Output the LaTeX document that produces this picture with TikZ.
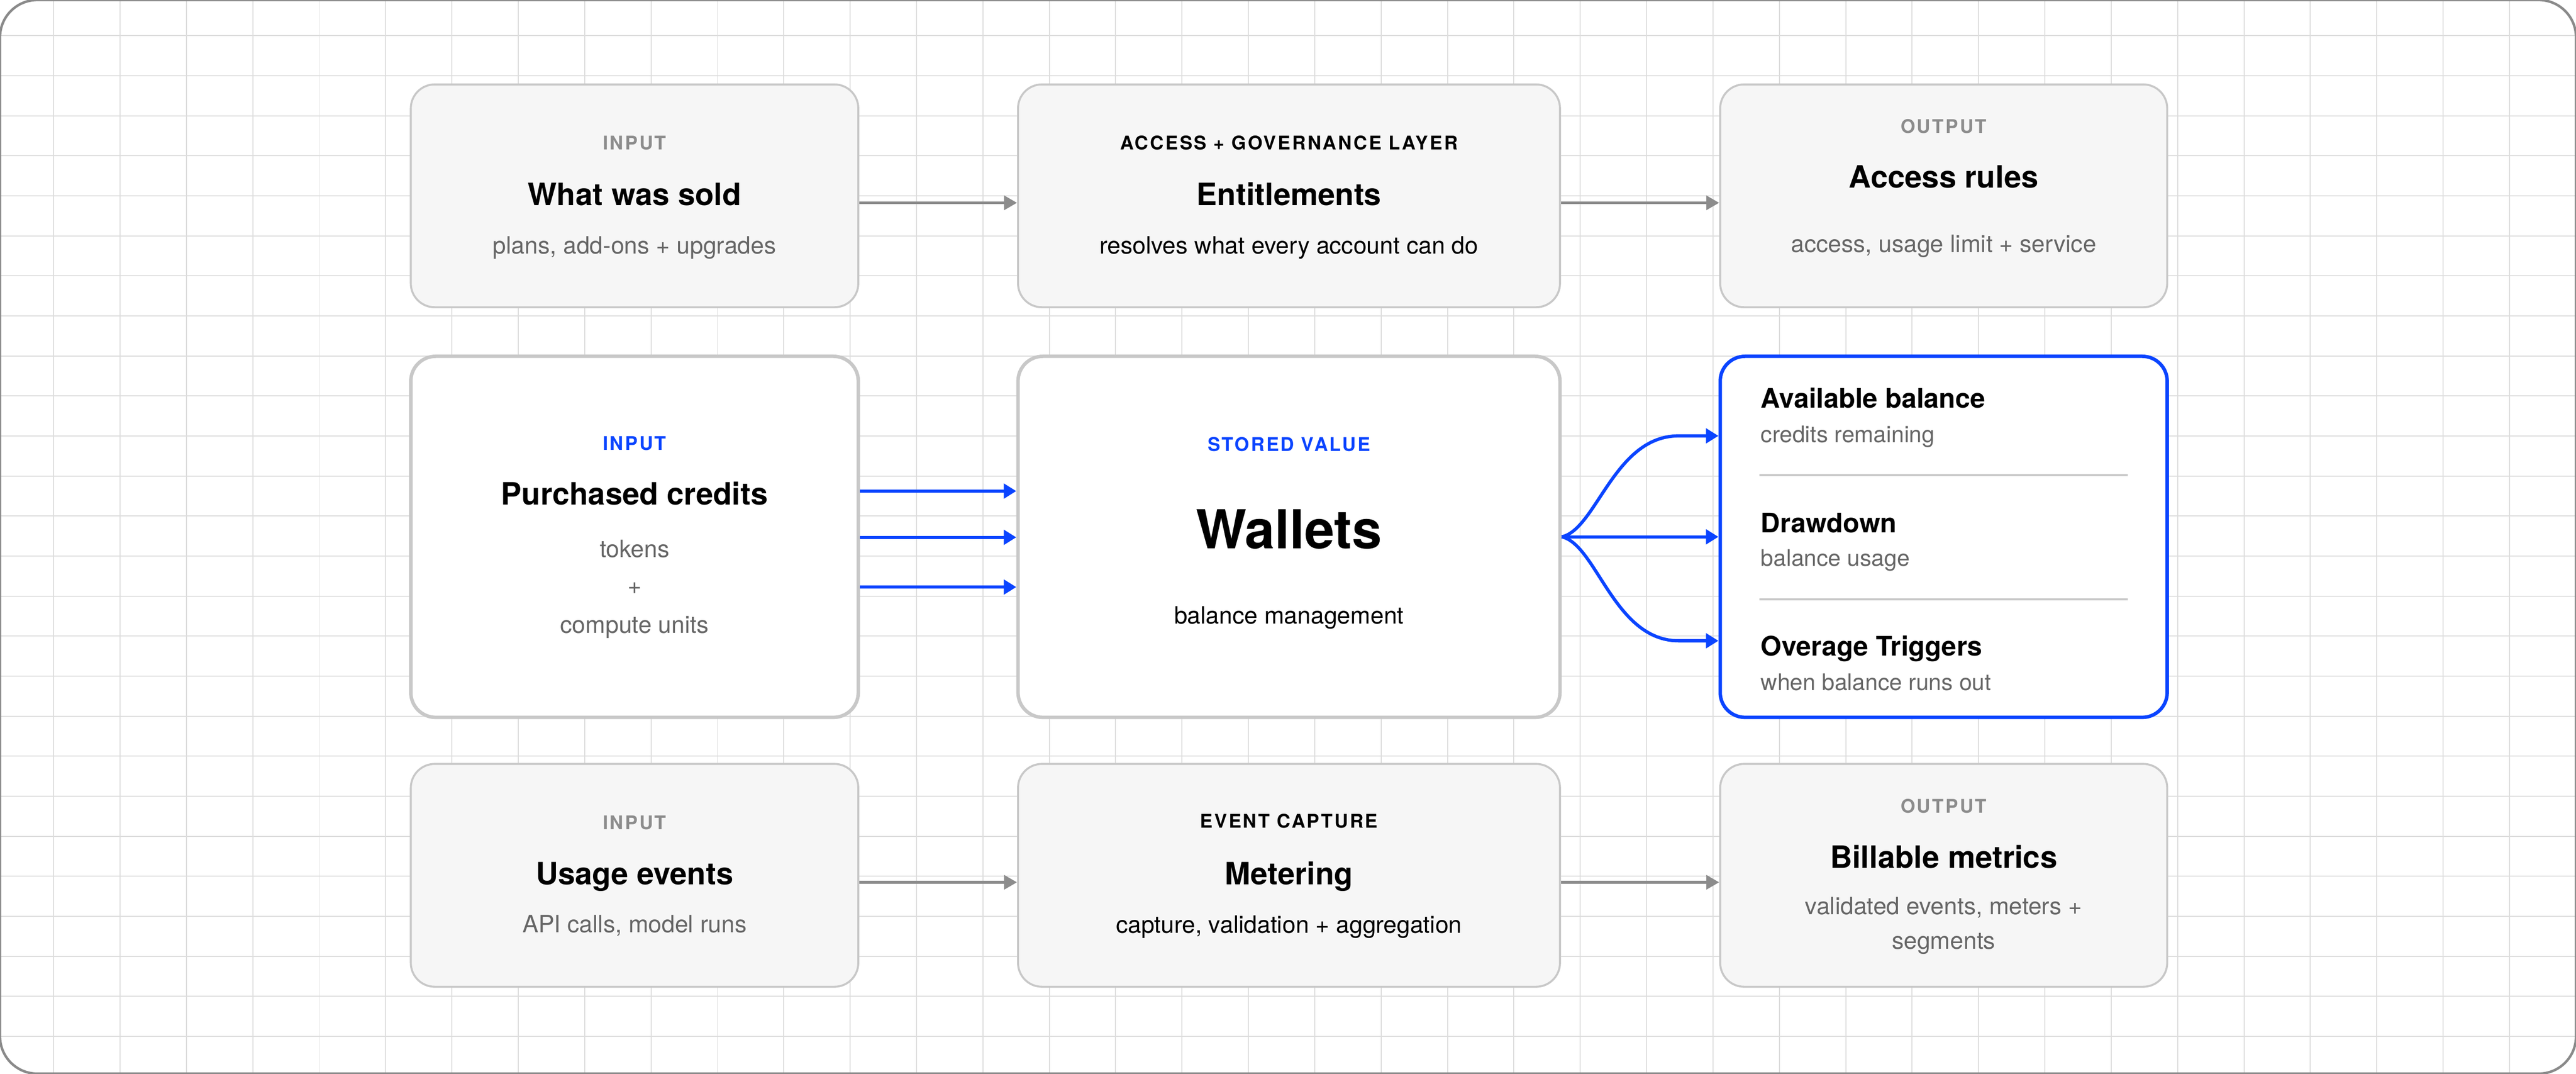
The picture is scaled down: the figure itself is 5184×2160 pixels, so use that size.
\documentclass[tikz,border=0pt]{standalone}
\usepackage{fontspec}
\setmainfont{TeX Gyre Heros}
\newfontfamily\trackfont[LetterSpace=9]{TeX Gyre Heros}
\usetikzlibrary{arrows.meta}
\definecolor{gridc}{HTML}{DDDDDD}
\definecolor{framec}{HTML}{8A8A8A}
\definecolor{boxline}{HTML}{C8C8C8}
\definecolor{boxfill}{HTML}{F6F6F6}
\definecolor{labgray}{HTML}{8C8C8C}
\definecolor{subgray}{HTML}{666666}
\definecolor{arrowgray}{HTML}{8C8C8C}
\definecolor{blueone}{HTML}{0A44FF}
\newcommand\ftitle{\fontsize{17.6pt}{21pt}\selectfont\bfseries}
\newcommand\fsubt{\fontsize{13.66pt}{16pt}\selectfont}
\newcommand\flab{\trackfont\fontsize{10.8pt}{12pt}\selectfont\bfseries}
\newcommand\fwal{\fontsize{30.7pt}{36pt}\selectfont\bfseries}
\newcommand\fitem{\fontsize{15.4pt}{18pt}\selectfont\bfseries}
\newcommand\fisub{\fontsize{13.1pt}{16pt}\selectfont}
\begin{document}
\begin{tikzpicture}[x=0.01cm,y=-0.01cm,
  gridl/.style={draw=gridc, line width=0.02cm},
  graybox/.style={draw=boxline, line width=0.04cm, fill=boxfill, rounded corners=0.48cm, inner sep=0, minimum height=4.48cm},
  midbox/.style={draw=boxline, line width=0.07cm, fill=white, rounded corners=0.5cm, inner sep=0, minimum height=7.26cm},
  bluebox/.style={midbox, draw=blueone},
  lbl/.style={anchor=base, inner sep=0, font=\flab, text=labgray},
  ttl/.style={anchor=base, inner sep=0, font=\ftitle, text=black},
  subt/.style={anchor=base, inner sep=0, font=\fsubt, text=subgray},
  itemt/.style={anchor=base west, inner sep=0, font=\fitem, text=black},
  items/.style={anchor=base west, inner sep=0, font=\fisub, text=subgray},
  grayarrow/.style={draw=arrowgray, line width=0.06cm, -{Triangle[length=0.26cm,width=0.28cm]}},
  bluearrow/.style={draw=blueone, line width=0.065cm, -{Triangle[length=0.25cm,width=0.29cm]}},
  divider/.style={draw=boxline, line width=0.04cm}
]
\useasboundingbox (0,0) rectangle (5184,2160);
\fill[white] (0,0) rectangle (5184,2160);
% grid
\begin{scope}
\clip[rounded corners=0.75cm] (0,0) rectangle (5184,2160);
\foreach \k in {0,...,37} \draw[gridl] ({108+133.57*\k},0) -- ({108+133.57*\k},2160);
\foreach \k in {0,...,25} \draw[gridl] (0,{72+80.52*\k}) -- (5184,{72+80.52*\k});
\end{scope}

% boxes
\node[graybox, minimum width=9cm] (sold) at (1277,394) {};
\node[graybox, minimum width=10.9cm] (ent) at (2594,394) {};
\node[graybox, minimum width=8.99cm] (rules) at (3911.5,394) {};
\node[midbox, minimum width=9cm] (credits) at (1277,1080) {};
\node[midbox, minimum width=10.9cm] (wallets) at (2594,1080) {};
\node[bluebox, minimum width=8.99cm] (blue) at (3911.5,1080) {};
\node[graybox, minimum width=9cm] (usage) at (1277,1761) {};
\node[graybox, minimum width=10.9cm] (meter) at (2594,1761) {};
\node[graybox, minimum width=8.99cm] (bill) at (3911.5,1761) {};

% connectors
\draw[grayarrow] ([yshift=-0.14cm]sold.east) -- ([yshift=-0.14cm]ent.west);
\draw[grayarrow] ([yshift=-0.14cm]ent.east) -- ([yshift=-0.14cm]rules.west);
\draw[grayarrow] ([yshift=-0.14cm]usage.east) -- ([yshift=-0.14cm]meter.west);
\draw[grayarrow] ([yshift=-0.14cm]meter.east) -- ([yshift=-0.14cm]bill.west);

\draw[bluearrow] ([yshift=0.92cm]credits.east) -- ([yshift=0.92cm]wallets.west);
\draw[bluearrow] ([yshift=-0.01cm]credits.east) -- ([yshift=-0.01cm]wallets.west);
\draw[bluearrow] ([yshift=-1.01cm]credits.east) -- ([yshift=-1.01cm]wallets.west);

\draw[bluearrow] (wallets.east) .. controls ([shift={(0.7cm,0.15cm)}]wallets.east) and ([shift={(-2.1cm,2.03cm)}]blue.west) .. ([shift={(-0.8cm,2.03cm)}]blue.west) -- ([yshift=2.03cm]blue.west);
\draw[bluearrow] (wallets.east) -- (blue.west);
\draw[bluearrow] (wallets.east) .. controls ([shift={(0.7cm,-0.15cm)}]wallets.east) and ([shift={(-2.1cm,-2.09cm)}]blue.west) .. ([shift={(-0.8cm,-2.09cm)}]blue.west) -- ([yshift=-2.09cm]blue.west);

% dividers in blue box
\draw[divider] (3541,956) -- (4282,956);
\draw[divider] (3541,1206) -- (4282,1206);

% top row texts
\node[lbl] (soldL) at (1277,301) {INPUT};
\node[ttl] (soldT) at (1277,413) {What was sold};
\node[subt] (soldS) at (1277,511) {plans, add-ons + upgrades};

\node[lbl, text=black] (entL) at (2594,301) {ACCESS + GOVERNANCE LAYER};
\node[ttl] (entT) at (2594,413) {Entitlements};
\node[subt, text=black] (entS) at (2594,511) {resolves what every account can do};

\node[lbl] (rulesL) at (3911.5,268) {OUTPUT};
\node[ttl] (rulesT) at (3911.5,378) {Access rules};
\node[subt] (rulesS) at (3911.5,508) {access, usage limit + service};

% middle row texts
\node[lbl, text=blueone] (credL) at (1277,906) {INPUT};
\node[ttl] (credT) at (1277,1016) {Purchased credits};
\node[subt] (credS1) at (1277,1121) {tokens};
\node[subt] (credS2) at (1277,1195) {+};
\node[subt] (credS3) at (1277,1274) {compute units};

\node[lbl, text=blueone] (walL) at (2594,908) {STORED VALUE};
\node[anchor=base, inner sep=0, font=\fwal] (walT) at (2594,1104) {Wallets};
\node[subt, text=black] (walS) at (2594,1255) {balance management};

\node[itemt] (avT) at (3543,821) {Available balance};
\node[items] (avS) at (3543,890) {credits remaining};
\node[itemt] (drT) at (3543,1071) {Drawdown};
\node[items] (drS) at (3543,1139) {balance usage};
\node[itemt] (ovT) at (3543,1319) {Overage Triggers};
\node[items] (ovS) at (3543,1389) {when balance runs out};

% bottom row texts
\node[lbl] (usL) at (1277,1669) {INPUT};
\node[ttl] (usT) at (1277,1780) {Usage events};
\node[subt] (usS) at (1277,1876) {API calls, model runs};

\node[lbl, text=black] (meL) at (2594,1666) {EVENT CAPTURE};
\node[ttl] (meT) at (2594,1780) {Metering};
\node[subt, text=black] (meS) at (2594,1877) {capture, validation + aggregation};

\node[lbl] (biL) at (3911.5,1636) {OUTPUT};
\node[ttl] (biT) at (3911.5,1746) {Billable metrics};
\node[subt] (biS1) at (3911.5,1840) {validated events, meters +};
\node[subt] (biS2) at (3911.5,1909) {segments};

% frame
\draw[draw=framec, line width=0.05cm, rounded corners=0.75cm] (0,0) rectangle (5184,2160);
\end{tikzpicture}
\end{document}
